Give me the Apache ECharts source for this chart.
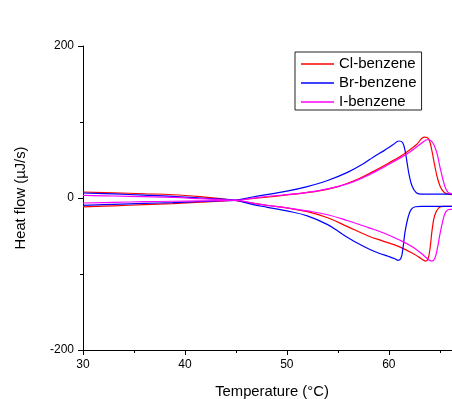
<!DOCTYPE html>
<html><head><meta charset="utf-8">
<script src="https://cdn.jsdelivr.net/npm/echarts@6/dist/echarts.min.js"></script>
<style>html,body{margin:0;padding:0;background:#fff}#c{width:452px;height:399px}</style>
</head><body><div id="c"></div><script>
// Series names
const seriesNames = ['Cl-benzene', 'Br-benzene', 'I-benzene'];
// Axis tick values
const xTicks = [30, 40, 50, 60];
const xMinorTicks = [35, 45, 55, 65];
const yTicks = [-200, 0, 200];

// Cl-benzene: branch going to the negative peak
const clNegT = [30, 33, 36, 38.8, 41.5, 43.5, 44.7, 46.5, 48, 50, 52, 54, 56, 58, 59.5, 61, 62.5, 63.2, 63.6, 63.85, 64.05, 64.25, 64.5, 64.9, 65.4, 67];
const clNegV = [7.9, 6.8, 5.6, 4.3, 1.8, -0.8, -3, -6.5, -9.5, -13, -18, -26, -38, -50, -57, -64, -74, -80, -83, -80, -66, -42, -23, -13, -11, -11];
// Cl-benzene: branch going to the positive peak
const clPosT = [30, 33, 36, 38.8, 41.5, 43.5, 44.7, 46.5, 48, 50, 53, 55, 57, 58.5, 60, 61.5, 62.7, 63.5, 63.9, 64.2, 64.5, 64.8, 65.2, 65.7, 67];
const clPosV = [-11.8, -10.3, -8.8, -7.4, -5.6, -4.2, -3, -1, 1, 4, 9, 15, 25, 35, 46, 58, 70, 80, 78, 64, 43, 25, 11, 5.5, 4];

// Br-benzene
const brNegT = [30, 33, 36, 38.8, 41.5, 43.5, 44.9, 46.5, 48, 50, 52, 54, 55.5, 57, 58.1, 59.1, 60, 60.6, 60.9, 61.2, 61.4, 61.6, 61.9, 62.2, 62.6, 63.2, 67];
const brNegV = [6.6, 5.3, 3.8, 2.2, 0, -1.6, -3, -8, -12, -17, -23.5, -35, -48, -60, -67.5, -73, -77, -80, -82, -79, -65, -44, -25, -15, -11.5, -11, -11];
const brPosT = [30, 33, 36, 38.8, 41.5, 43.5, 44.9, 46.5, 48, 50, 52, 54, 56, 57.5, 58.5, 59.5, 60.4, 61.0, 61.35, 61.6, 61.8, 62.0, 62.3, 62.7, 63.2, 67];
const brPosV = [-9.6, -8.4, -7.1, -6, -4.6, -3.6, -3, 1, 4.5, 9, 15, 23, 34, 45, 54, 62, 70, 75, 73, 62, 46, 30, 15, 7, 5, 5];

// I-benzene
const iNegT = [30, 33, 36, 38.8, 41.5, 43.5, 45.1, 47.4, 50, 52, 54, 56, 58, 59.5, 61, 62.3, 63.2, 63.8, 64.2, 64.5, 64.8, 65.0, 65.3, 65.6, 66.0, 67];
const iNegV = [3.5, 2.6, 1.7, 0.7, -0.9, -2.2, -3, -8.5, -13, -17, -22, -30, -39, -46, -55, -64, -73, -80, -83, -80, -64, -49, -30, -18, -15, -15];
const iPosT = [30, 33, 36, 38.8, 41.5, 43.5, 45.1, 46.5, 48, 50, 52, 54, 56, 57.5, 59, 60.5, 62, 63.2, 63.85, 64.3, 64.7, 65.0, 65.3, 65.6, 66.0, 67];
const iPosV = [-6.6, -5.7, -4.9, -4.3, -3.8, -3.4, -3, -0.5, 2, 4.5, 7.5, 12, 19, 27, 37, 48, 60, 72, 77, 73, 60, 42, 25, 12, 6, 5];

const colors = ['#FF0000', '#0000FF', '#FF00FF'];
const font = 'Liberation Sans, Arial, sans-serif';

function zip(t, v) { return t.map((x, i) => [x, v[i]]); }
function mk(name, color, t, v) {
  return {
    type: 'line', name: name, data: zip(t, v), showSymbol: false, symbol: 'none',
    smooth: 0.4, color: color, xAxisIndex: 0,
    lineStyle: { color: color, width: 1.2 }, itemStyle: { color: color }
  };
}

const chart = echarts.init(document.getElementById('c'));
chart.setOption({
  animation: false,
  backgroundColor: '#fff',
  textStyle: { fontFamily: font },
  grid: { left: 83, right: 0, top: 46, bottom: 49, containLabel: false, outerBoundsMode: 'none' },
  legend: {
    data: seriesNames, orient: 'vertical', left: 295, top: 52,
    icon: 'rect', itemWidth: 33, itemHeight: 1.5, itemGap: 3,
    borderColor: '#222', borderWidth: 1, borderRadius: 0,
    padding: [4, 5, 0, 6],
    textStyle: { fontSize: 15, color: '#000', lineHeight: 16, fontFamily: font }
  },
  xAxis: [{
    type: 'value', min: 30, max: 66.2, interval: 10,
    name: 'Temperature (°C)', nameLocation: 'middle', nameGap: 34,
    nameTextStyle: { fontSize: 14.8, color: '#000', fontFamily: font, padding: [0, 0, 0, 9] },
    axisLine: { show: true, onZero: false, lineStyle: { color: '#000', width: 1 } },
    axisTick: { show: true, inside: false, length: 5, customValues: xTicks, lineStyle: { color: '#000' } },
    splitLine: { show: false },
    axisLabel: { color: '#000', fontSize: 12, margin: 9, fontFamily: font, customValues: xTicks }
  }, {
    type: 'value', min: 30, max: 66.2, interval: 10, position: 'bottom',
    axisLine: { show: false, onZero: false },
    axisTick: { show: true, inside: false, length: 3, customValues: xMinorTicks, lineStyle: { color: '#000' } },
    splitLine: { show: false },
    axisLabel: { show: false }
  }],
  yAxis: {
    type: 'value', min: -200, max: 200, interval: 200,
    name: 'Heat flow (µJ/s)', nameLocation: 'middle', nameGap: 55, nameRotate: 90,
    nameTextStyle: { fontSize: 14.8, color: '#000', fontFamily: font },
    axisLine: { show: true, onZero: false, lineStyle: { color: '#000', width: 1 } },
    axisTick: { show: true, inside: false, length: 5, lineStyle: { color: '#000' } },
    minorTick: { show: true, splitNumber: 2, length: 3, lineStyle: { color: '#000' } },
    splitLine: { show: false }, minorSplitLine: { show: false },
    axisLabel: { color: '#000', fontSize: 12, margin: 9, fontFamily: font,
      formatter: v => (yTicks.indexOf(v) >= 0 ? String(v) : '') }
  },
  series: [
    mk(seriesNames[0], colors[0], clNegT, clNegV),
    mk(seriesNames[0], colors[0], clPosT, clPosV),
    mk(seriesNames[1], colors[1], brNegT, brNegV),
    mk(seriesNames[1], colors[1], brPosT, brPosV),
    mk(seriesNames[2], colors[2], iNegT, iNegV),
    mk(seriesNames[2], colors[2], iPosT, iPosV)
  ]
});
</script></body></html>
